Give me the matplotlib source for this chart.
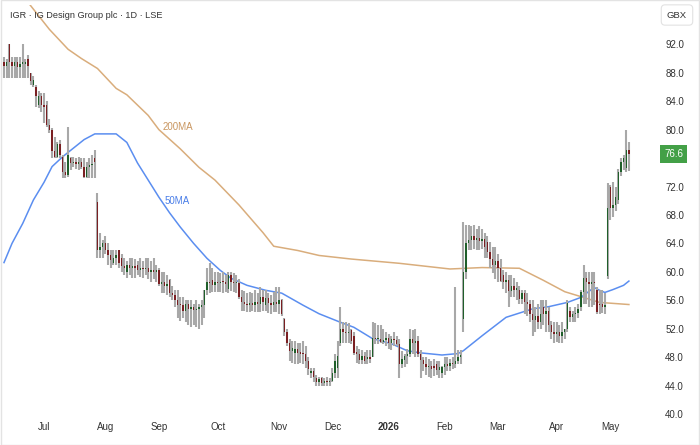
import numpy as np
import pandas as pd
import matplotlib
matplotlib.use('Agg')
import matplotlib.pyplot as plt
import matplotlib.transforms as mtransforms
from matplotlib.patches import Rectangle

plt.rcParams['font.family'] = ['Liberation Sans Narrow', 'Liberation Sans', 'DejaVu Sans']

# trading days (LSE), 10 Jun 2025 -> 13 May 2026
holidays = ['2025-08-25', '2025-12-25', '2025-12-26', '2026-01-01',
            '2026-04-03', '2026-04-06', '2026-05-04']
dates = pd.bdate_range('2025-06-10', '2026-05-13')
dates = dates[~dates.isin(pd.to_datetime(holidays))]

opens = [89.5, 89.0, 92.0, 89.5, 89.0, 89.5, 88.8, 89.3, 89.3, 90.0,
         88.0, 86.3, 86.0, 83.5, 84.8, 83.5, 83.5, 80.6, 80.0, 77.0,
         76.2, 78.0, 76.2, 74.0, 73.6, 76.0, 75.3, 75.4, 75.2, 75.5,
         74.8, 73.3, 74.8, 75.0, 76.0, 69.8,
         63.0, 63.5, 64.0, 63.0, 62.3, 61.2, 62.0, 63.0, 62.0, 60.8,
         60.0, 61.0, 60.5, 60.8, 61.0, 60.3, 60.5, 60.4, 60.6, 60.0, 60.2, 60.0,
         60.2, 58.3, 58.5, 58.0, 58.8, 57.0, 56.7, 56.0, 55.5, 55.3,
         54.5, 55.5, 54.8, 55.0, 54.6, 54.8, 55.0, 55.3, 57.4, 58.5, 58.8, 58.2,
         58.5, 58.4, 58.6, 58.5, 57.6, 59.6, 58.5, 58.4, 58.4, 56.4,
         55.8, 55.5, 55.3, 55.6, 55.3, 55.8, 55.5, 56.5, 55.3, 56.3, 55.6, 55.4, 55.7,
         55.5, 56.0, 53.4, 51.5, 50.0, 48.8, 48.6, 49.2, 48.6, 48.5,
         48.4, 47.5, 45.8, 46.0, 45.0, 44.5, 45.0, 44.4, 44.6, 44.5,
         44.6, 45.8, 46.5, 50.0, 52.0, 51.6, 51.4, 51.8, 51.0, 48.6, 48.5,
         47.6, 48.2, 47.8, 48.0, 48.0, 50.7, 50.5, 50.6, 50.2, 50.4,
         50.7, 50.0, 50.5, 50.4,
         49.9, 47.0, 47.6, 48.2, 48.5, 50.6, 50.0, 50.3, 48.5, 47.6,
         47.0, 46.6, 46.8, 46.8, 47.0, 46.2, 45.8, 46.6, 47.0, 46.8, 47.2,
         47.0, 47.5, 48.0, 53.4, 60.0,
         64.0, 64.5, 65.0, 64.5, 64.8, 64.3, 64.6, 64.2, 62.8, 61.8,
         61.0, 61.5, 60.5, 59.5, 58.5, 58.8, 57.3, 58.0, 57.5, 57.5,
         56.2, 57.0, 55.8, 55.5, 54.0, 53.2, 53.8, 53.0, 55.0, 54.0,
         54.5, 52.5, 51.5, 51.3, 51.6, 51.0, 51.5, 52.0, 54.5, 53.6,
         54.0, 54.2, 55.0, 57.2, 59.1, 58.5, 58.3, 58.5, 57.4, 55.5, 55.5, 55.0,
         59.4, 72.0, 69.0, 69.4, 70.1, 74.0, 75.5, 74.6, 77.2]

highs = [90.2, 90.0, 92.0, 90.2, 90.2, 90.2, 90.2, 92.0, 90.0, 90.5,
         88.0, 87.5, 86.3, 85.5, 85.2, 85.2, 84.0, 81.5, 80.2, 79.0,
         78.2, 78.5, 76.5, 75.5, 80.4, 76.2, 76.2, 76.0, 76.2, 76.0,
         76.0, 75.5, 76.0, 76.5, 77.2, 71.1,
         65.4, 64.5, 65.0, 64.0, 63.0, 63.0, 63.0, 63.0, 62.5, 61.9,
         61.5, 61.9, 62.0, 61.8, 61.5, 62.0, 61.5, 62.0, 61.9, 61.5, 62.0, 61.0,
         60.5, 60.0, 60.0, 59.5, 59.0, 58.0, 57.4, 57.4, 56.5, 56.5,
         56.0, 56.0, 56.0, 55.5, 56.0, 55.5, 56.0, 57.5, 60.5, 61.3, 60.5, 60.0,
         60.0, 59.8, 60.0, 59.5, 60.0, 60.0, 59.9, 59.5, 59.0, 57.5,
         57.3, 57.0, 57.2, 57.0, 57.5, 57.0, 57.8, 57.5, 57.5, 57.0, 56.8, 57.2, 57.8,
         57.8, 56.2, 53.5, 52.0, 50.5, 50.3, 50.3, 50.0, 50.0, 50.3,
         49.5, 48.0, 46.5, 46.5, 45.5, 45.2, 45.2, 45.0, 45.2, 45.0,
         46.5, 48.5, 50.3, 55.0, 52.9, 53.0, 52.8, 52.0, 51.5, 49.5, 49.2,
         49.0, 48.7, 49.0, 49.0, 52.9, 52.8, 52.5, 52.5, 52.0, 51.5,
         51.2, 51.0, 51.5, 51.0,
         50.5, 48.9, 48.5, 49.2, 52.0, 51.8, 52.0, 51.0, 49.0, 48.0,
         48.0, 47.8, 47.5, 47.8, 47.5, 47.5, 46.8, 48.0, 48.0, 47.8, 48.0,
         57.8, 49.0, 49.0, 67.0, 66.6,
         66.6, 66.5, 66.6, 66.0, 66.5, 66.0, 65.4, 65.0, 64.2, 63.5,
         63.5, 62.5, 61.8, 60.2, 60.0, 59.5, 59.5, 59.2, 58.5, 58.0,
         57.5, 57.4, 57.0, 56.0, 56.0, 55.0, 55.5, 56.0, 56.0, 56.0,
         55.0, 53.1, 53.0, 53.0, 52.5, 53.0, 52.0, 56.0, 55.0, 54.5,
         55.0, 55.5, 57.5, 61.0, 60.0, 60.0, 60.0, 60.0, 57.8, 57.5, 57.5, 57.0,
         72.5, 72.2, 72.6, 72.0, 74.5, 76.0, 76.5, 80.0, 78.2]

lows = [87.2, 87.2, 87.2, 87.2, 87.2, 87.2, 87.2, 87.2, 87.2, 87.2,
        86.3, 86.0, 83.2, 83.0, 82.5, 81.0, 80.4, 79.5, 76.0, 76.0,
        76.0, 76.0, 73.2, 73.2, 73.4, 74.3, 74.8, 74.5, 74.3, 74.5,
        73.2, 73.2, 73.2, 73.2, 73.2, 62.0,
        62.0, 62.0, 62.5, 61.0, 60.5, 61.0, 61.0, 60.5, 60.0, 59.5,
        59.1, 59.5, 59.1, 59.1, 59.5, 59.3, 59.1, 59.5, 59.0, 58.5, 59.0, 58.5,
        58.0, 57.0, 57.0, 56.7, 56.5, 56.0, 55.0, 53.5, 53.1, 53.5,
        53.0, 52.5, 52.2, 52.5, 52.2, 52.0, 52.5, 53.5, 56.8, 57.0, 57.1, 57.1,
        57.2, 57.1, 57.0, 57.1, 57.0, 57.3, 57.1, 57.0, 56.2, 54.5,
        54.5, 54.3, 54.3, 54.5, 54.3, 54.4, 54.3, 54.5, 54.5, 54.2, 54.1, 54.3, 54.3,
        54.1, 53.8, 51.0, 49.5, 47.5, 47.2, 47.0, 47.0, 47.2, 47.0,
        46.5, 45.5, 45.0, 44.5, 44.0, 44.0, 44.0, 44.0, 44.0, 44.0,
        44.5, 45.0, 45.0, 49.5, 50.0, 50.0, 50.0, 49.9, 48.3, 47.2, 47.0,
        47.0, 47.0, 47.0, 47.2, 48.0, 49.9, 49.9, 50.0, 49.9, 49.5,
        49.2, 49.0, 49.5, 49.5,
        45.0, 46.5, 46.6, 47.0, 48.0, 48.5, 48.0, 48.0, 45.0, 46.0,
        45.5, 45.2, 45.0, 45.3, 45.5, 45.0, 45.0, 45.5, 46.1, 46.1, 46.3,
        46.5, 47.0, 47.0, 51.5, 59.0,
        63.0, 63.0, 63.2, 63.0, 63.0, 63.2, 62.0, 62.0, 60.5, 59.8,
        59.0, 58.5, 58.5, 57.6, 57.0, 55.0, 56.5, 56.5, 56.0, 55.5,
        55.5, 54.0, 53.8, 53.0, 51.0, 51.5, 52.0, 52.0, 52.5, 51.5,
        51.5, 50.5, 50.0, 50.2, 50.0, 50.0, 50.5, 51.5, 52.9, 52.9,
        53.0, 53.5, 54.5, 55.5, 55.5, 55.0, 55.0, 55.3, 54.1, 54.1, 54.2, 54.1,
        59.0, 67.3, 67.7, 68.5, 69.5, 73.5, 74.3, 74.0, 74.2]

closes = [89.0, 89.5, 89.5, 89.0, 89.5, 88.8, 89.3, 89.3, 89.5, 88.9,
          86.8, 87.0, 84.7, 84.8, 83.5, 83.2, 80.6, 80.0, 77.0, 76.2,
          78.0, 76.5, 74.0, 73.6, 76.5, 75.3, 75.4, 75.2, 75.3, 74.8,
          73.3, 74.8, 75.0, 75.2, 75.5, 63.0,
          63.5, 64.0, 63.0, 62.3, 61.6, 62.0, 62.3, 61.2, 60.8, 60.5,
          61.0, 60.5, 60.8, 60.5, 60.3, 60.5, 60.4, 60.6, 60.0, 60.2, 60.0, 60.2,
          58.3, 58.5, 58.0, 58.3, 57.0, 56.7, 56.0, 55.3, 55.3, 54.5,
          55.5, 54.8, 55.0, 54.6, 54.8, 55.0, 55.3, 57.4, 58.5, 58.4, 58.2, 58.5,
          58.4, 58.6, 58.5, 58.3, 59.6, 58.5, 58.4, 58.5, 56.4, 55.8,
          55.5, 55.3, 55.6, 55.3, 55.8, 55.5, 56.5, 55.8, 56.3, 55.6, 55.4, 55.7, 55.5,
          56.0, 54.1, 51.5, 50.0, 48.8, 49.3, 49.2, 48.6, 48.5, 48.4,
          47.5, 46.3, 46.0, 45.2, 44.5, 44.9, 44.4, 44.6, 44.5, 44.6,
          45.8, 47.5, 48.2, 52.0, 51.6, 51.4, 51.5, 50.3, 48.6, 48.5, 47.6,
          48.2, 47.5, 48.0, 47.7, 50.7, 50.5, 50.6, 50.2, 50.4, 50.7,
          50.0, 50.5, 50.4, 49.9,
          47.0, 47.8, 48.2, 48.5, 50.6, 50.0, 50.3, 48.5, 47.6, 47.0,
          46.6, 46.8, 46.4, 46.5, 46.2, 46.6, 46.6, 47.0, 46.8, 47.2, 47.0,
          47.5, 48.0, 48.3, 60.0, 64.0,
          64.5, 65.0, 64.5, 64.8, 64.3, 64.6, 63.5, 62.8, 61.8, 61.0,
          61.5, 60.5, 58.7, 58.5, 58.8, 57.3, 58.0, 57.5, 57.5, 56.2,
          57.0, 55.8, 55.5, 54.0, 53.2, 53.8, 53.0, 54.0, 54.0, 54.5,
          52.5, 51.5, 51.3, 51.6, 51.0, 51.5, 52.0, 55.6, 53.6, 54.0,
          54.2, 54.8, 57.2, 59.1, 58.5, 58.3, 58.5, 58.4, 54.3, 55.3, 55.0, 55.3,
          69.0, 69.0, 69.4, 70.5, 74.0, 75.5, 76.0, 77.2, 76.6]

# moving averages (bar number, value)
ma50_bar = [0, 3, 7, 11, 15, 18, 22, 26, 30, 34, 42, 46, 50, 54, 58, 62, 66, 71, 76, 81,
            85, 91, 98, 104, 112, 118, 126, 131, 138, 145, 151, 156, 164, 170, 172, 179,
            188, 198, 204, 211, 216, 221, 223, 225, 228, 232, 234]
ma50_val = [61.3, 64.0, 66.8, 70.1, 72.6, 74.8, 76.2, 77.4, 78.6, 79.4, 79.4, 78.2, 75.3,
            72.9, 70.5, 68.3, 66.3, 64.0, 61.9, 60.2, 59.1, 58.1, 57.4, 57.0, 55.3, 54.1,
            52.9, 52.2, 50.6, 49.9, 48.9, 48.6, 48.3, 48.5, 48.9, 51.0, 53.6, 54.8, 55.1,
            55.7, 56.4, 57.8, 57.4, 57.1, 57.5, 58.1, 58.7]
ma200_bar = [0, 9, 17, 24, 29, 35, 42, 46, 54, 58, 66, 73, 79, 88, 97, 101, 110, 118, 130,
             148, 167, 179, 193, 202, 210, 217, 223, 234]
ma200_val = [102.0, 97.9, 94.1, 91.3, 90.0, 88.6, 85.8, 84.9, 82.0, 80.0, 77.3, 74.7, 72.9,
             69.4, 65.5, 63.6, 63.0, 62.3, 61.8, 61.2, 60.4, 60.6, 60.5, 58.8, 57.2, 56.4,
             55.7, 55.4]

# price axis labels (76.0 is hidden behind the last-price tag)
yticks = [40, 44, 48, 52, 56, 60, 64, 68, 72, 80, 84, 88, 92]
last_price = closes[-1]

assert len(dates) == len(closes)
o = np.array(opens); h = np.array(highs); l = np.array(lows); c = np.array(closes)
h = np.maximum(h, np.maximum(o, c))
l = np.minimum(l, np.minimum(o, c))
idx = np.arange(len(c))

fig = plt.figure(figsize=(7, 4.45), dpi=100)
ax = fig.add_axes([0, (445 - 418) / 445, 650 / 700, 413 / 445])

# candles
ax.vlines(idx, l, h, color='#a8a8a8', lw=1.5, zorder=2)
up = c >= o
body_col = np.where(up, '#1f5f2a', '#7a1f22')
body_h = np.maximum(np.abs(c - o), 0.18)
ax.bar(idx, body_h, bottom=np.minimum(o, c), width=0.5, color=body_col, zorder=3)

ax.plot(ma200_bar, ma200_val, color='#d9ad7c', lw=1.1, zorder=1)
ax.plot(ma50_bar, ma50_val, color='#5b8ef0', lw=1.1, zorder=1)

ax.text(59.2, 80.4, '200MA', color='#c99660', fontsize=7, va='center', ha='left')
ax.text(60.3, 70.0, '50MA', color='#4a7ee8', fontsize=7, va='center', ha='left')

ax.set_xlim(-1.5, 241.9)
ax.set_ylim(39.44, 97.53)

# month ticks at first trading day of each month
month_first = [i for i in range(1, len(dates)) if dates[i].month != dates[i - 1].month]
labels = []
for i in month_first:
    labels.append(str(dates[i].year) if dates[i].month == 1 else dates[i].strftime('%b'))
ax.set_xticks(month_first)
ax.set_xticklabels(labels)
for t in ax.get_xticklabels():
    if t.get_text() == '2026':
        t.set_fontweight('bold')
ax.tick_params(axis='x', length=0, pad=3, labelsize=7, labelcolor='#333333')

ax.yaxis.tick_right()
ax.set_yticks(yticks)
ax.set_yticklabels(['%.1f' % v for v in yticks])
ax.tick_params(axis='y', length=0, pad=11, labelsize=7, labelcolor='#333333')

for s in ax.spines.values():
    s.set_visible(False)

# last price tag
trans = mtransforms.blended_transform_factory(ax.transAxes, ax.transData)
ax.text(1.0 + 14 / 650, last_price, '%.1f' % last_price, transform=trans, color='white',
        fontsize=7, va='center', ha='left', clip_on=False,
        bbox=dict(boxstyle='square,pad=0.4', fc='#43a047', ec='none'))

fig.text(10 / 700, 1 - 15 / 445, 'IGR \u00b7 IG Design Group plc \u00b7 1D \u00b7 LSE',
         fontsize=6.6, color='#333333', va='center', ha='left')
fig.text(677 / 700, 1 - 15 / 445, 'GBX', fontsize=6.8, color='#333333', va='center', ha='center',
         bbox=dict(boxstyle='round,pad=0.6,rounding_size=0.4', fc='white', ec='#e2e2e2', lw=0.8))

fig.patches.append(Rectangle((0.001, 0.001), 0.998, 0.998, transform=fig.transFigure,
                             fill=False, ec='#e3e3e3', lw=1))

fig.savefig('out.png', dpi=100)
